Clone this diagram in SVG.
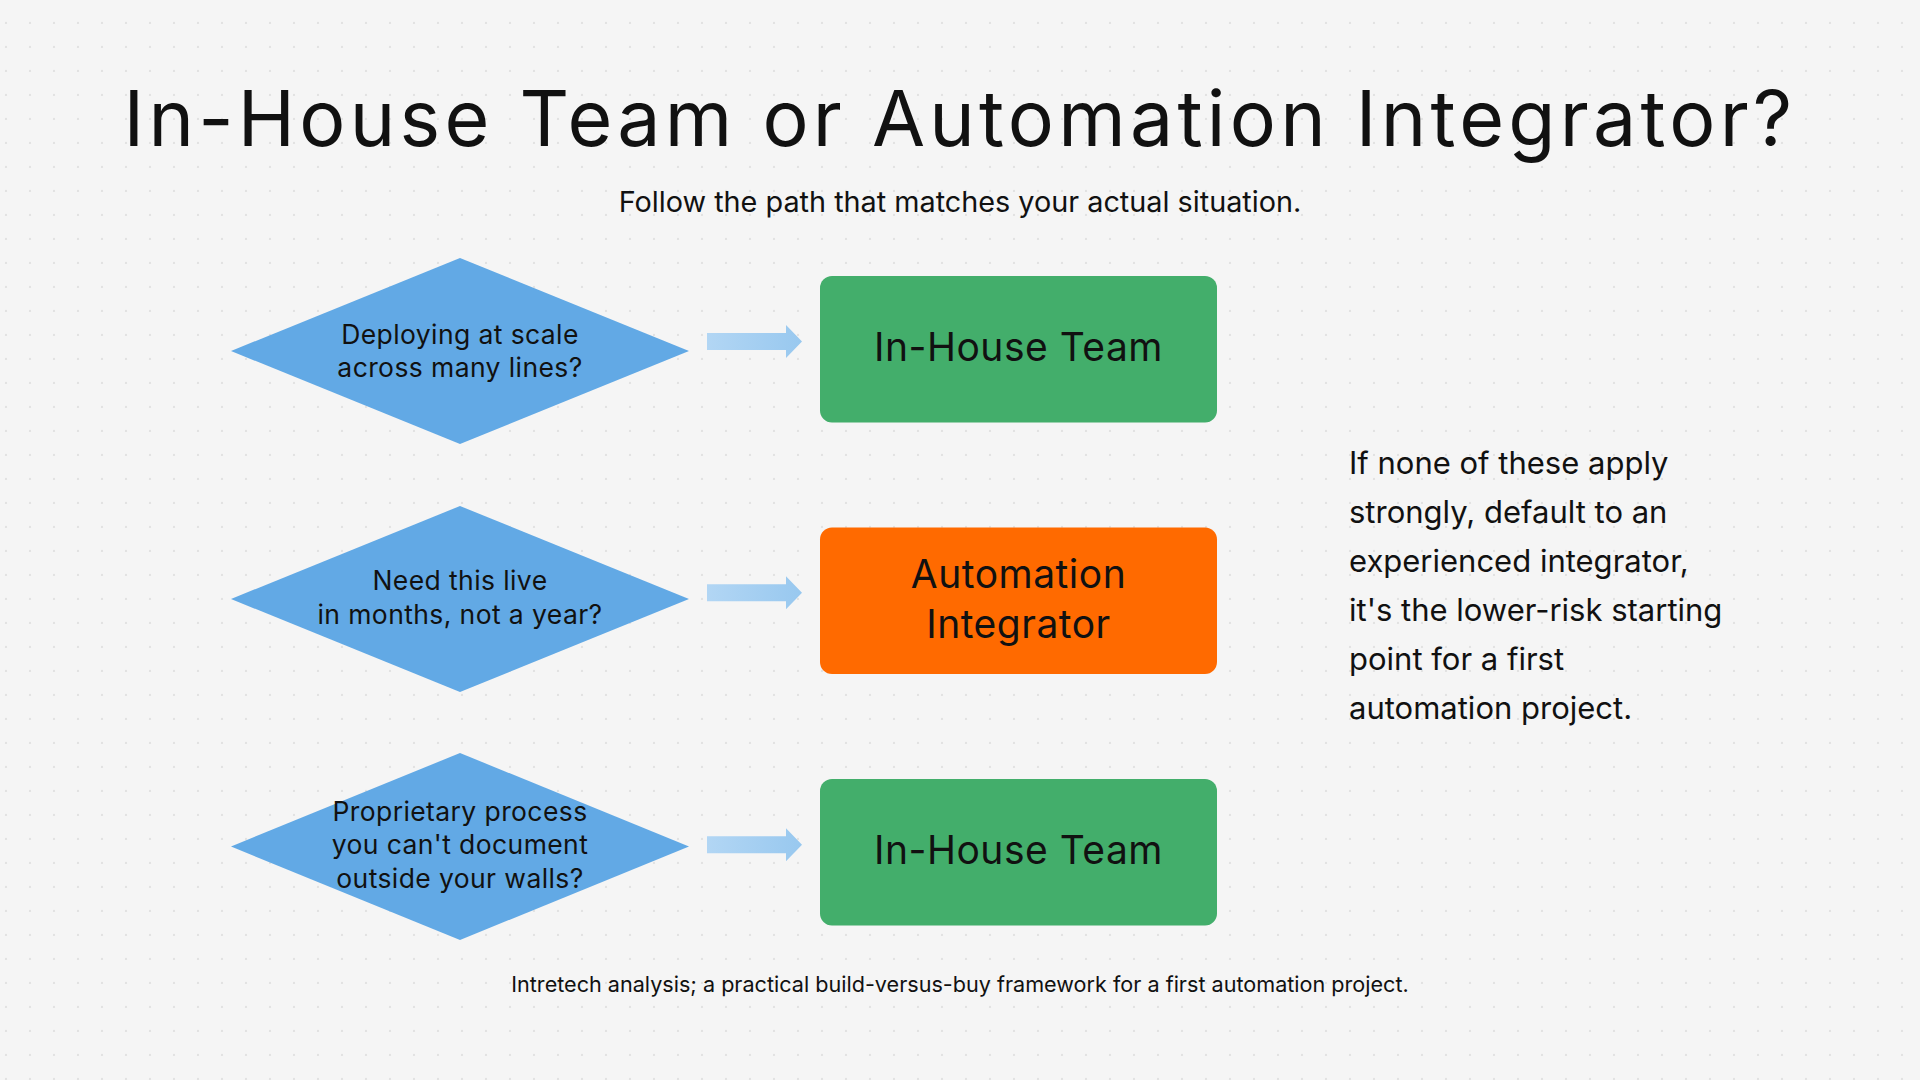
<svg xmlns="http://www.w3.org/2000/svg" width="1920" height="1080" viewBox="0 0 1920 1080">
  <defs>
    <pattern id="dots" x="0" y="0" width="24" height="24" patternUnits="userSpaceOnUse">
      <circle cx="6" cy="23" r="1.2" fill="#e2e2e2"/>
    </pattern>
    <linearGradient id="arrowGrad" x1="0" y1="0" x2="1" y2="0">
      <stop offset="0" stop-color="#b2d6f4"/>
      <stop offset="1" stop-color="#98c8ef"/>
    </linearGradient>
    <style>
      .poppins { font-family: "Inter", "Noto Sans", "DejaVu Sans", sans-serif; fill: #111111; }
      .inter { font-family: "Inter", "Noto Sans", "Liberation Sans", sans-serif; fill: #111111; }
      .diamond { fill: #62a9e5; }
      .green { fill: #43ae6b; }
      .orange { fill: #ff6a00; }
      .qtext { font-size: 26.5px; letter-spacing: 0.4px; text-anchor: middle; }
      .atext { font-size: 39px; letter-spacing: 0.5px; text-anchor: middle; }
      .note { font-size: 31px; }
      .arrow { fill: url(#arrowGrad); }
    </style>
  </defs>

  <g id="background">
    <rect x="0" y="0" width="1920" height="1080" fill="#f5f5f5"/>
    <rect x="0" y="0" width="1920" height="1080" fill="url(#dots)"/>
  </g>

  <g id="title">
    <text class="poppins" x="960" y="146" font-size="77" letter-spacing="4.25" text-anchor="middle" fill="#1a1a1a">In-House Team or Automation Integrator?</text>
    <text class="inter" x="960" y="212" font-size="28.8" text-anchor="middle">Follow the path that matches your actual situation.</text>
  </g>

  <g id="q1">
    <polygon class="diamond" points="460,258 689,351 460,444 231,351"/>
    <text class="poppins qtext" x="460" y="344">Deploying at scale</text>
    <text class="poppins qtext" x="460" y="377">across many lines?</text>
  </g>
  <g id="q2">
    <polygon class="diamond" points="460,506 689,599 460,692 231,599"/>
    <text class="poppins qtext" x="460" y="590">Need this live</text>
    <text class="poppins qtext" x="460" y="624">in months, not a year?</text>
  </g>
  <g id="q3">
    <polygon class="diamond" points="460,753 689,846.5 460,940 231,846.5"/>
    <text class="poppins qtext" x="460" y="821">Proprietary process</text>
    <text class="poppins qtext" x="460" y="854">you can't document</text>
    <text class="poppins qtext" x="460" y="888">outside your walls?</text>
  </g>

  <g id="a1">
    <rect class="green" x="820" y="276" width="397" height="146.5" rx="12"/>
    <text class="poppins atext" x="1018.5" y="361">In-House Team</text>
  </g>
  <g id="a2">
    <rect class="orange" x="820" y="527.5" width="397" height="146.5" rx="12"/>
    <text class="poppins atext" x="1018.5" y="588">Automation</text>
    <text class="poppins atext" x="1018.5" y="638">Integrator</text>
  </g>
  <g id="a3">
    <rect class="green" x="820" y="779" width="397" height="146.5" rx="12"/>
    <text class="poppins atext" x="1018.5" y="864">In-House Team</text>
  </g>

  <g id="connectors">
    <path class="arrow" d="M707 333 H786 V325 L802 341.5 L786 358 V350 H707 Z"/>
    <path class="arrow" d="M707 584.3 H786 V576.3 L802 592.8 L786 609.3 V601.3 H707 Z"/>
    <path class="arrow" d="M707 836.2 H786 V828.2 L802 844.7 L786 861.2 V853.2 H707 Z"/>
  </g>

  <g id="note">
    <text class="inter note" x="1349" y="474">If none of these apply</text>
    <text class="inter note" x="1349" y="523">strongly, default to an</text>
    <text class="inter note" x="1349" y="572">experienced integrator,</text>
    <text class="inter note" x="1349" y="621">it's the lower-risk starting</text>
    <text class="inter note" x="1349" y="670">point for a first</text>
    <text class="inter note" x="1349" y="719">automation project.</text>
  </g>

  <g id="footer">
    <text class="inter" x="960" y="992" font-size="21.6" text-anchor="middle">Intretech analysis; a practical build-versus-buy framework for a first automation project.</text>
  </g>
</svg>
